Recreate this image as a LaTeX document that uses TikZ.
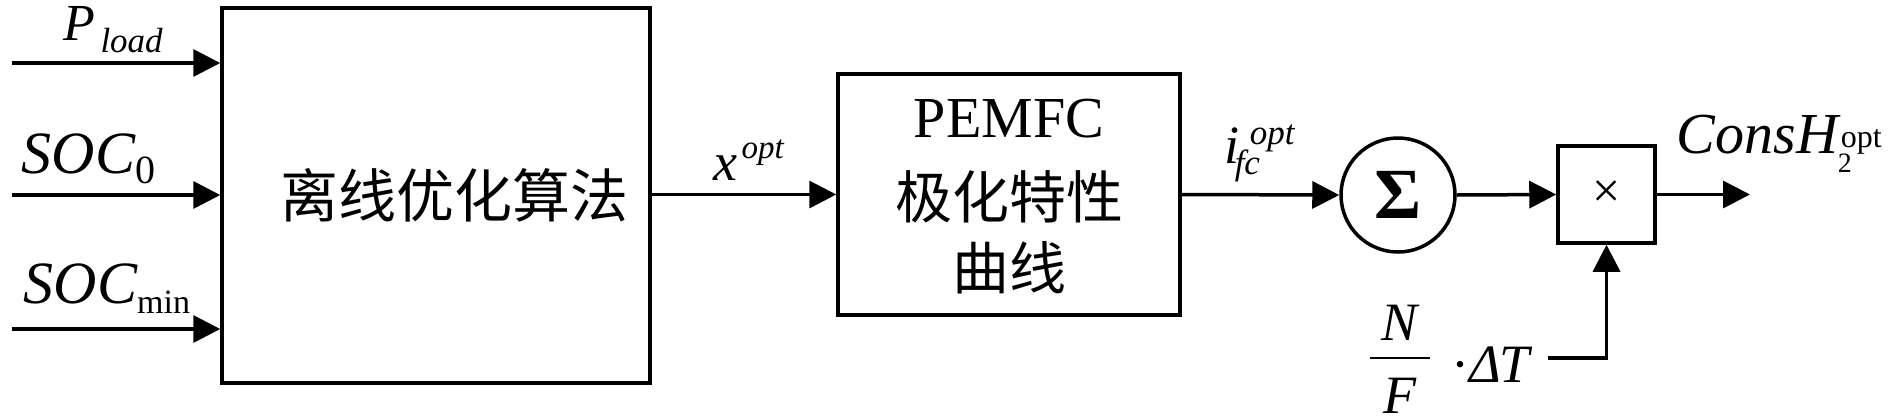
\documentclass[tikz,border=0pt]{standalone}
\usepackage{fontspec}
\setmainfont{Liberation Serif}
\newfontfamily\cjk{Noto Sans CJK SC}
\usetikzlibrary{arrows.meta}
\newcommand\fs[1]{\fontsize{#1}{#1}\selectfont}
\begin{document}
\begin{tikzpicture}[x=1pt, y=-1pt, line width=3.5pt,
  arr/.style={-{Triangle[length=27pt,width=27pt]}},
  blk/.style={draw, inner sep=0pt, line width=3.5pt},
  lbl/.style={inner sep=0pt, anchor=base west}]
\useasboundingbox (0,0) rectangle (1890,418);

% blocks
\node[blk, minimum width=428pt, minimum height=375pt] (opt) at (436,195.5)
  {\cjk\fs{58}\hspace*{36pt}离线优化算法};
\node[blk, minimum width=342pt, minimum height=241pt] (pem) at (1009,194.5) {};
\node[align=center, inner sep=0pt, font={\cjk\fontsize{57}{71}\selectfont}] (pemtxt) at (1009,197)
  {{\rmfamily\fontsize{58}{71}\selectfont PEMFC}\\[10pt]极化特性\\曲线};
\node[circle, draw, line width=3.5pt, minimum size=114pt, inner sep=0pt] (sum) at (1398,195)
  {\fs{72}\bfseries Σ};
\node[blk, minimum size=97pt] (mul) at (1606.5,194.5) {\fs{50}×};

% labels
\node[lbl] (pl) at (62,40) {\fs{52}\itshape P\kern5pt\raisebox{-12pt}{\fs{35}load}};
\node[lbl] (s0) at (20,173) {\fs{60}\itshape SOC\raisebox{-10pt}{\fs{40}\upshape 0}};
\node[lbl] (smin) at (22,303) {\fs{60}\itshape SOC\raisebox{-10pt}{\fs{34}\upshape min}};
\node[lbl] (xo) at (712,180) {\fs{54}\itshape x\kern4pt\raisebox{22pt}{\fs{33}opt}};
\node[lbl] (ifc) at (1223,163) {\fs{54}\itshape i\kern-5pt\rlap{\raisebox{-11pt}{\fs{35}fc}}\kern15pt\raisebox{19pt}{\fs{35}opt}};
\node[lbl] (cons) at (1675,153) {\fs{58}\itshape ConsH\rlap{\raisebox{-19pt}{\fs{28}\upshape 2}}\kern3pt\raisebox{6pt}{\fs{32}\upshape opt}};
\node[lbl] (ratio) at (1368,358) {\fs{54}\itshape\rlap{\raisebox{18pt}{\makebox[60pt]{N}}}\rlap{\raisebox{-55pt}{\makebox[60pt]{F}}}\rule[-1.2pt]{60pt}{2.4pt}\kern22pt\raisebox{-24pt}{\upshape·\itshape Δ\kern-2pt T}};

% connectors
\coordinate (in1) at (12,63);
\coordinate (in2) at (12,195);
\coordinate (in3) at (12,329);
\draw[arr] (in1) -- (in1 -| opt.west);
\draw[arr] (in2) -- (in2 -| opt.west);
\draw[arr] (in3) -- (in3 -| opt.west);
\draw[arr] (opt.east |- pem.west) -- (pem.west);
\draw[arr] (pem.east) -- (sum.west);
\draw[arr] (sum.east) -- (mul.west);
\coordinate (out) at (1750,194.5);
\draw[arr] (mul.east) -- (out);
\coordinate (dtend) at (1548,358);
\draw[arr] (dtend) -| (mul.south);
\end{tikzpicture}
\end{document}
